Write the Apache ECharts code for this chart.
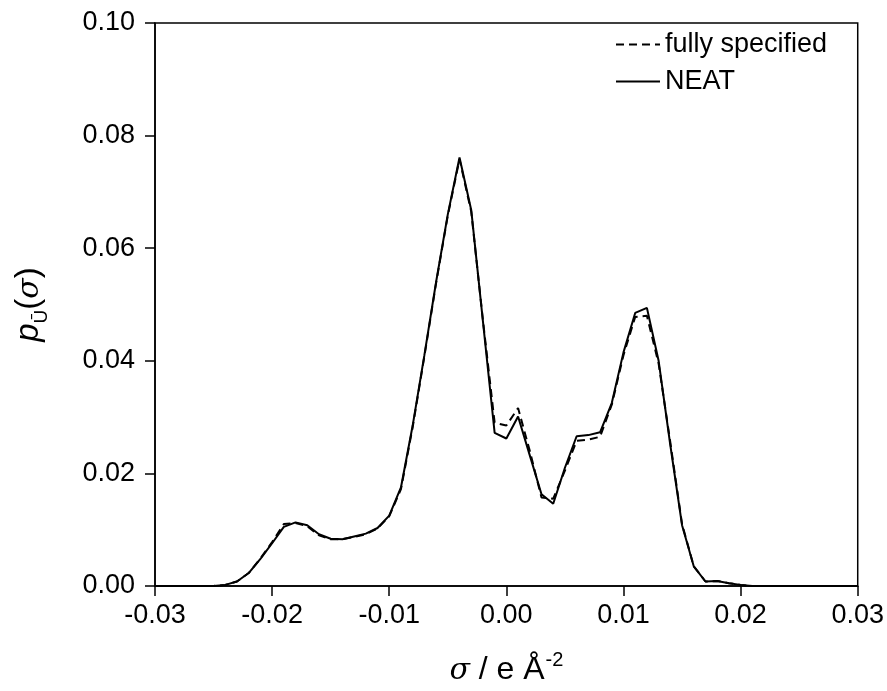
<!DOCTYPE html>
<html>
<head>
<meta charset="utf-8">
<script src="https://cdn.jsdelivr.net/npm/echarts@6/dist/echarts.min.js"></script>
<style>html,body{margin:0;padding:0;background:#fff}#c{width:887px;height:691px}</style>
</head>
<body>
<div id="c"></div>
<script>
var sigma = [-0.030,-0.029,-0.028,-0.027,-0.026,-0.025,-0.024,-0.023,-0.022,-0.021,-0.020,-0.019,-0.018,-0.017,-0.016,-0.015,-0.014,-0.013,-0.012,-0.011,-0.010,-0.009,-0.008,-0.007,-0.006,-0.005,-0.004,-0.003,-0.002,-0.001,0.000,0.001,0.002,0.003,0.004,0.005,0.006,0.007,0.008,0.009,0.010,0.011,0.012,0.013,0.014,0.015,0.016,0.017,0.018,0.019,0.020,0.021,0.022,0.023,0.024,0.025,0.026,0.027,0.028,0.029,0.030];
var neat = [0,0,0,0,0,0,0.0002,0.0008,0.0023,0.0048,0.0076,0.0105,0.0113,0.0108,0.0092,0.0084,0.0083,0.0088,0.0093,0.0103,0.0125,0.0175,0.0285,0.041,0.054,0.066,0.0761,0.0668,0.047,0.0272,0.0262,0.0301,0.0232,0.0163,0.0146,0.021,0.0266,0.0268,0.0273,0.0325,0.0415,0.0485,0.0494,0.040,0.025,0.0108,0.0035,0.0008,0.0009,0.0005,0.0002,0,0,0,0,0,0,0,0,0,0];
var fully = [0,0,0,0,0,0,0.0002,0.0008,0.0023,0.0049,0.0078,0.0110,0.0112,0.0106,0.0090,0.0083,0.0083,0.0087,0.0092,0.0102,0.0124,0.0172,0.0282,0.0408,0.0538,0.0658,0.0758,0.0665,0.0472,0.029,0.0285,0.0316,0.024,0.0157,0.0155,0.0205,0.0258,0.026,0.0265,0.0322,0.041,0.0478,0.048,0.0395,0.0255,0.011,0.0035,0.0008,0.0009,0.0005,0.0002,0,0,0,0,0,0,0,0,0,0];
var xTicks = [-0.03,-0.02,-0.01,0.00,0.01,0.02,0.03];
var yTicks = [0.00,0.02,0.04,0.06,0.08,0.10];
var seriesNames = ['fully specified','NEAT'];

function pairs(xs, ys){ return xs.map(function(x,i){ return [x, ys[i]]; }); }

var FONT = 'Liberation Sans, Arial, sans-serif';
var chart = echarts.init(document.getElementById('c'));
chart.setOption({
  animation: false,
  backgroundColor: '#fff',
  grid: { left: 155, right: 29, top: 23, bottom: 101, show: true, borderColor: '#000', borderWidth: 1.5, backgroundColor: 'transparent' },
  legend: {
    left: 610, top: 26, orient: 'vertical', itemWidth: 44, itemHeight: 14, itemGap: 10,
    itemStyle: { opacity: 0 },
    textStyle: { fontFamily: FONT, fontSize: 27, color: '#000' },
    data: seriesNames
  },
  xAxis: {
    type: 'value', min: xTicks[0], max: xTicks[xTicks.length-1], interval: 0.01,
    axisLine: { show: true, onZero: false, lineStyle: { color: '#000', width: 1.5 } },
    axisTick: { show: true, inside: false, length: 10, lineStyle: { color: '#000', width: 1.5 } },
    axisLabel: { fontFamily: FONT, fontSize: 27, color: '#000', margin: 16, formatter: function(v){ return v.toFixed(2); } },
    splitLine: { show: false },
    name: '{i|σ}{n| / e Å}{s|-2}',
    nameLocation: 'middle', nameGap: 64,
    nameTextStyle: { rich: {
      i: { fontFamily: 'DejaVu Serif, serif', fontStyle: 'italic', fontSize: 30, color: '#000', lineHeight: 36, verticalAlign: 'bottom' },
      n: { fontFamily: FONT, fontSize: 32, color: '#000', lineHeight: 36, verticalAlign: 'bottom' },
      s: { fontFamily: FONT, fontSize: 20, color: '#000', lineHeight: 36, verticalAlign: 'top', padding:[0,0,0,1] }
    } }
  },
  yAxis: {
    type: 'value', min: yTicks[0], max: yTicks[yTicks.length-1], interval: 0.02,
    axisLine: { show: true, onZero: false, lineStyle: { color: '#000', width: 1.5 } },
    axisTick: { show: true, inside: false, length: 10, lineStyle: { color: '#000', width: 1.5 } },
    axisLabel: { fontFamily: FONT, fontSize: 27, color: '#000', margin: 20, formatter: function(v){ return v.toFixed(2); } },
    splitLine: { show: false },
    name: '{p|p}{s|Ū}{n|(}{i|σ}{n|)}',
    nameLocation: 'middle', nameGap: 110, nameRotate: 90,
    nameTextStyle: { rich: {
      p: { fontFamily: FONT, fontStyle: 'italic', fontSize: 33, color: '#000', lineHeight: 36, verticalAlign: 'bottom' },
      s: { fontFamily: FONT, fontSize: 19, color: '#000', lineHeight: 36, verticalAlign: 'bottom', padding: [0,0,-6,0] },
      n: { fontFamily: FONT, fontSize: 33, color: '#000', lineHeight: 36, verticalAlign: 'bottom' },
      i: { fontFamily: 'DejaVu Serif, serif', fontStyle: 'italic', fontSize: 30, color: '#000', lineHeight: 36, verticalAlign: 'bottom' }
    } }
  },
  series: [
    { name: seriesNames[0], type: 'line', data: pairs(sigma, fully), showSymbol: false, symbol: 'none',
      lineStyle: { color: '#000', width: 2, type: [8,5] }, itemStyle: { color: '#000' }, z: 2 },
    { name: seriesNames[1], type: 'line', data: pairs(sigma, neat), showSymbol: false, symbol: 'none',
      lineStyle: { color: '#000', width: 2, type: 'solid' }, itemStyle: { color: '#000' }, z: 3 }
  ]
});
</script>
</body>
</html>
